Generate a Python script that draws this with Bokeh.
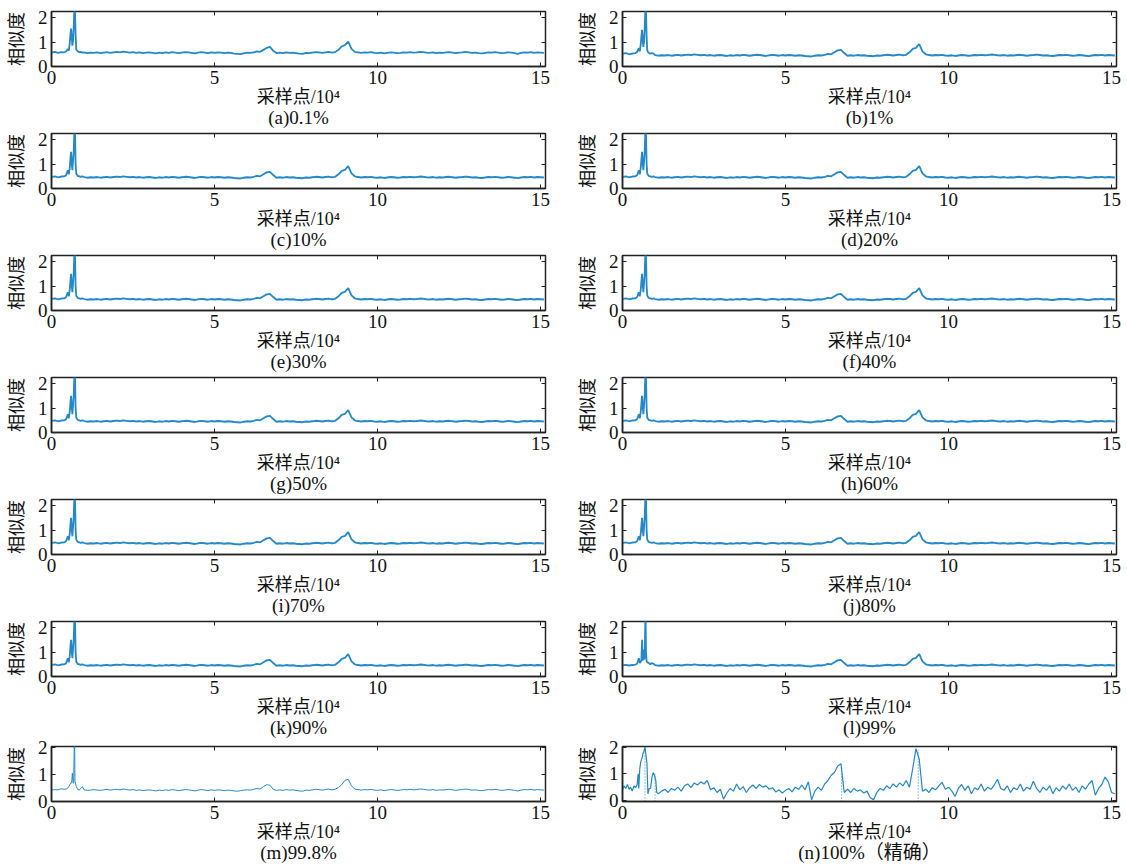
from bokeh.plotting import figure
from bokeh.layouts import gridplot
from bokeh.models import FixedTicker, LinearAxis, Range1d
from bokeh.embed import file_html
from bokeh.resources import INLINE
import numpy as np

# ---------------- data ----------------
captions = ["(a)0.1%", "(b)1%", "(c)10%", "(d)20%", "(e)30%", "(f)40%", "(g)50%",
            "(h)60%", "(i)70%", "(j)80%", "(k)90%", "(l)99%", "(m)99.8%", "(n)100%（精确）"]
x_ticks = [0, 5, 10, 15]
y_ticks = [0, 1, 2]

# head region (peaks near x=0.6-0.7, in 10^4 samples)
x_head = [0.0, 0.1, 0.2, 0.3, 0.4, 0.45, 0.5, 0.53, 0.56, 0.58, 0.60, 0.62,
          0.64, 0.66, 0.68, 0.70, 0.71, 0.72, 0.74, 0.76, 0.8, 0.85, 0.9, 0.95]
head_a = [0.57, 0.60, 0.56, 0.59, 0.58, 0.62, 0.72, 0.65, 0.95, 1.30, 1.55, 1.20,
          0.85, 1.05, 1.60, 2.30, 2.40, 2.30, 1.30, 0.70, 0.62, 0.58, 0.60, 0.57]
head_b = [0.52, 0.55, 0.50, 0.53, 0.55, 0.60, 0.75, 0.62, 0.90, 1.25, 1.50, 1.10,
          0.80, 1.00, 1.55, 2.30, 2.40, 2.30, 1.20, 0.65, 0.56, 0.52, 0.55, 0.53]
head_mid = [0.47, 0.50, 0.46, 0.49, 0.50, 0.55, 0.75, 0.58, 0.85, 1.20, 1.50, 1.05,
            0.75, 1.10, 1.50, 2.30, 2.40, 2.30, 1.00, 0.60, 0.52, 0.50, 0.48, 0.50]
head_l = [0.46, 0.48, 0.45, 0.47, 0.49, 0.52, 0.75, 0.55, 0.60, 0.70, 1.50, 0.65,
          1.10, 0.70, 0.75, 2.30, 2.40, 1.00, 0.62, 0.58, 0.56, 0.50, 0.55, 0.52]
head_m = [0.42, 0.44, 0.43, 0.47, 0.45, 0.46, 0.50, 0.55, 0.62, 0.65, 0.70, 0.68,
          1.05, 0.70, 0.68, 2.20, 2.20, 0.75, 0.65, 0.55, 0.45, 0.42, 0.48, 0.55]

# tail region x = 1.0 ... 15.1 (step 0.1)
x_tail = np.round(np.arange(10, 152) / 10.0, 1)
tail_a = [0.58, 0.55, 0.57, 0.56, 0.58, 0.55, 0.57, 0.59, 0.56, 0.58,
          0.60, 0.58, 0.61, 0.59, 0.57, 0.59, 0.56, 0.58, 0.55, 0.57,
          0.58, 0.56, 0.54, 0.57, 0.55, 0.58, 0.56, 0.59, 0.57, 0.55,
          0.57, 0.59, 0.58, 0.56, 0.54, 0.57, 0.59, 0.57, 0.55, 0.58,
          0.56, 0.58, 0.57, 0.55, 0.57, 0.56, 0.53, 0.52, 0.51, 0.54,
          0.57, 0.56, 0.58, 0.62, 0.60, 0.68, 0.76, 0.80, 0.64, 0.55,
          0.57, 0.55, 0.58, 0.56, 0.57, 0.55, 0.53, 0.52, 0.56, 0.55,
          0.57, 0.59, 0.58, 0.56, 0.58, 0.60, 0.57, 0.59, 0.68, 0.82,
          0.88, 1.02, 0.72, 0.60, 0.58, 0.56, 0.58, 0.57, 0.59, 0.56,
          0.55, 0.57, 0.54, 0.56, 0.58, 0.57, 0.55, 0.56, 0.58, 0.57,
          0.59, 0.57, 0.58, 0.60, 0.59, 0.57, 0.56, 0.58, 0.55, 0.57,
          0.56, 0.58, 0.59, 0.57, 0.55, 0.57, 0.58, 0.60, 0.58, 0.56,
          0.57, 0.55, 0.54, 0.56, 0.58, 0.57, 0.59, 0.57, 0.55, 0.56,
          0.58, 0.57, 0.55, 0.52, 0.56, 0.58, 0.57, 0.59, 0.56, 0.58,
          0.57, 0.56]
tail_common = [0.47, 0.44, 0.46, 0.45, 0.47, 0.44, 0.46, 0.48, 0.45, 0.47,
               0.49, 0.47, 0.50, 0.48, 0.46, 0.48, 0.45, 0.47, 0.44, 0.46,
               0.47, 0.45, 0.43, 0.46, 0.44, 0.47, 0.45, 0.48, 0.46, 0.44,
               0.46, 0.48, 0.47, 0.45, 0.43, 0.46, 0.48, 0.46, 0.44, 0.47,
               0.45, 0.47, 0.46, 0.44, 0.46, 0.45, 0.43, 0.42, 0.41, 0.44,
               0.46, 0.45, 0.48, 0.52, 0.50, 0.58, 0.66, 0.68, 0.55, 0.44,
               0.46, 0.44, 0.47, 0.45, 0.46, 0.44, 0.43, 0.42, 0.45, 0.44,
               0.46, 0.48, 0.47, 0.45, 0.47, 0.49, 0.46, 0.48, 0.58, 0.72,
               0.76, 0.92, 0.62, 0.50, 0.47, 0.45, 0.47, 0.46, 0.48, 0.45,
               0.44, 0.46, 0.43, 0.45, 0.47, 0.46, 0.44, 0.45, 0.47, 0.46,
               0.48, 0.46, 0.47, 0.49, 0.48, 0.46, 0.45, 0.47, 0.44, 0.46,
               0.45, 0.47, 0.48, 0.46, 0.44, 0.46, 0.47, 0.49, 0.47, 0.45,
               0.46, 0.44, 0.43, 0.45, 0.47, 0.46, 0.48, 0.46, 0.44, 0.45,
               0.47, 0.46, 0.44, 0.42, 0.45, 0.47, 0.46, 0.48, 0.45, 0.47,
               0.46, 0.45]
tail_m = [0.43, 0.41, 0.42, 0.44, 0.42, 0.41, 0.43, 0.45, 0.42, 0.44,
          0.45, 0.43, 0.46, 0.44, 0.42, 0.44, 0.41, 0.43, 0.40, 0.42,
          0.43, 0.41, 0.39, 0.42, 0.40, 0.43, 0.41, 0.44, 0.42, 0.40,
          0.42, 0.44, 0.43, 0.41, 0.39, 0.42, 0.44, 0.42, 0.40, 0.43,
          0.41, 0.43, 0.42, 0.40, 0.42, 0.41, 0.39, 0.38, 0.40, 0.42,
          0.43, 0.42, 0.45, 0.48, 0.46, 0.55, 0.62, 0.60, 0.45, 0.41,
          0.43, 0.41, 0.44, 0.42, 0.43, 0.41, 0.39, 0.38, 0.42, 0.41,
          0.43, 0.45, 0.44, 0.42, 0.44, 0.46, 0.43, 0.45, 0.52, 0.62,
          0.78, 0.82, 0.58, 0.46, 0.44, 0.42, 0.44, 0.43, 0.45, 0.42,
          0.41, 0.43, 0.40, 0.42, 0.44, 0.43, 0.41, 0.42, 0.44, 0.43,
          0.45, 0.43, 0.44, 0.46, 0.45, 0.43, 0.42, 0.44, 0.41, 0.43,
          0.42, 0.44, 0.45, 0.43, 0.41, 0.43, 0.44, 0.46, 0.44, 0.42,
          0.43, 0.41, 0.40, 0.42, 0.44, 0.43, 0.45, 0.43, 0.41, 0.42,
          0.44, 0.43, 0.41, 0.39, 0.42, 0.44, 0.43, 0.45, 0.42, 0.44,
          0.43, 0.42]

# exact (n) series
x_n_head = [0.0, 0.05, 0.1, 0.15, 0.2, 0.25, 0.3, 0.35, 0.4, 0.45, 0.48, 0.5, 0.53, 0.56,
            0.6, 0.63, 0.66, 0.69, 0.72, 0.75, 0.78, 0.82, 0.86, 0.9, 0.94, 0.98, 1.02, 1.05]
y_n_head = [0.40, 0.55, 0.45, 0.60, 0.42, 0.50, 0.35, 0.55, 0.48, 0.60, 1.00, 0.45, 1.20, 1.45,
            1.60, 1.78, 1.85, 2.02, 1.70, 1.40, 0.25, 0.45, 0.45, 0.85, 1.05, 0.95, 0.75, 0.30]
x_n_tail = np.round(np.arange(11, 152) / 10.0, 1)
y_n_tail = [0.25, 0.35, 0.42, 0.30, 0.45, 0.38, 0.50, 0.35, 0.55,
            0.62, 0.48, 0.66, 0.58, 0.70, 0.62, 0.75, 0.40, 0.48, 0.30,
            0.42, 0.05, 0.28, 0.45, 0.35, 0.62, 0.40, 0.52, 0.30, 0.48,
            0.58, 0.45, 0.60, 0.50, 0.55, 0.42, 0.48, 0.32, 0.40, 0.28,
            0.38, 0.45, 0.32, 0.50, 0.42, 0.58, 0.40, 0.70, 0.02, 0.35,
            0.50, 0.38, 0.62, 0.75, 0.95, 1.05, 1.30, 1.38, 0.30, 0.42,
            0.30, 0.45, 0.35, 0.40, 0.28, 0.35, 0.10, 0.03, 0.30, 0.45,
            0.38, 0.55, 0.45, 0.62, 0.50, 0.66, 0.55, 0.75, 0.50, 1.20,
            1.95, 1.55, 0.35, 0.42, 0.30, 0.48, 0.40, 0.55, 0.68, 0.42,
            0.50, 0.35, 0.15, 0.45, 0.60, 0.38, 0.55, 0.25, 0.48, 0.40,
            0.62, 0.35, 0.50, 0.42, 0.58, 0.80, 0.45, 0.38, 0.55, 0.30,
            0.48, 0.40, 0.62, 0.35, 0.50, 0.42, 0.72, 0.45, 0.30, 0.50,
            0.38, 0.55, 0.25, 0.48, 0.35, 0.55, 0.42, 0.62, 0.38, 0.50,
            0.30, 0.55, 0.42, 0.62, 0.75, 0.20, 0.45, 0.60, 0.88, 0.70,
            0.30, 0.25]
# dotted markers in (n)
dot_x = [0.69, 1.0, 6.72, 9.07]
dot_top = [2.0, 1.0, 1.35, 1.9]

# ---------------- style ----------------
BLUE = "#2389c9"
NUM_FONT = "'Liberation Serif', 'Noto Sans CJK SC'"
CJK_FONT = "'Liberation Serif', 'Noto Sans CJK SC'"
FRAME = "#222222"
TXT = "#111111"


def make_fig(idx, xs, ys, yr, lw, left_col, top_border):
    p = figure(frame_width=494, frame_height=55,
               x_range=Range1d(0, 15.15), y_range=Range1d(*yr),
               output_backend="svg", toolbar_location=None,
               title=captions[idx], title_location="below",
               min_border_left=51 if left_col else 56,
               min_border_right=21 if left_col else 6,
               min_border_top=top_border, min_border_bottom=62)
    p.line(xs, ys, color=BLUE, line_width=lw)
    p.grid.visible = False
    p.outline_line_color = FRAME
    p.outline_line_width = 1.5

    p.xaxis.ticker = FixedTicker(ticks=x_ticks)
    p.yaxis.ticker = FixedTicker(ticks=y_ticks)
    for ax in (p.xaxis[0], p.yaxis[0]):
        ax.major_tick_in = 4
        ax.major_tick_out = 0
        ax.minor_tick_line_color = None
        ax.axis_line_color = FRAME
        ax.axis_line_width = 1.5
        ax.major_tick_line_color = FRAME
        ax.major_label_text_font = NUM_FONT
        ax.major_label_text_font_size = "19px"
        ax.major_label_text_color = TXT
        ax.axis_label_text_font = CJK_FONT
        ax.axis_label_text_font_style = "normal"
        ax.axis_label_text_color = TXT
    p.xaxis.axis_label = "采样点/10⁴"
    p.xaxis.axis_label_text_font_size = "18px"
    p.xaxis.major_label_standoff = 4
    p.xaxis.axis_label_standoff = 0
    p.yaxis.axis_label = "相似度"
    p.yaxis.axis_label_text_font_size = "18px"
    p.yaxis.major_label_standoff = 4
    p.yaxis.axis_label_standoff = 8

    top = LinearAxis(ticker=FixedTicker(ticks=x_ticks), major_label_text_font_size="0px",
                     major_tick_in=4, major_tick_out=0, minor_tick_line_color=None,
                     axis_line_color=None, major_tick_line_color=FRAME, major_label_standoff=0)
    right = LinearAxis(ticker=FixedTicker(ticks=y_ticks), major_label_text_font_size="0px",
                       major_tick_in=4, major_tick_out=0, minor_tick_line_color=None,
                       axis_line_color=None, major_tick_line_color=FRAME, major_label_standoff=0)
    p.add_layout(top, "above")
    p.add_layout(right, "right")

    p.title.align = "center"
    p.title.text_font = CJK_FONT
    p.title.text_font_size = "19px"
    p.title.text_font_style = "normal"
    p.title.text_color = TXT
    p.title.standoff = -9
    return p


figs = []
for i in range(14):
    left = (i % 2 == 0)
    row = i // 2
    top_border = 11 if row == 0 else (8 if row == 6 else 5)
    if i == 0:
        xs, ys, yr, lw = list(x_head) + list(x_tail), head_a + tail_a, (0, 2.25), 1.8
    elif i == 1:
        xs, ys, yr, lw = list(x_head) + list(x_tail), head_b + tail_common, (0, 2.25), 1.8
    elif i < 11:
        xs, ys, yr, lw = list(x_head) + list(x_tail), head_mid + tail_common, (0, 2.25), 1.8
    elif i == 11:
        xs, ys, yr, lw = list(x_head) + list(x_tail), head_l + tail_common, (0, 2.25), 1.8
    elif i == 12:
        xs, ys, yr, lw = list(x_head) + list(x_tail), head_m + tail_m, (0, 2.03), 1.0
    else:
        xs, ys, yr, lw = list(x_n_head) + list(x_n_tail), y_n_head + y_n_tail, (-0.04, 2.03), 1.2
    p = make_fig(i, xs, ys, yr, lw, left, top_border)
    if i == 13:
        p.segment(x0=dot_x, y0=[yr[0]] * len(dot_x), x1=dot_x, y1=dot_top,
                  color=BLUE, line_width=1, line_dash="1 2")
    figs.append(p)

rows = [[figs[2 * r], figs[2 * r + 1]] for r in range(7)]
grid = gridplot(rows, toolbar_location=None)

open("out.html", "w").write(file_html(grid, INLINE))
